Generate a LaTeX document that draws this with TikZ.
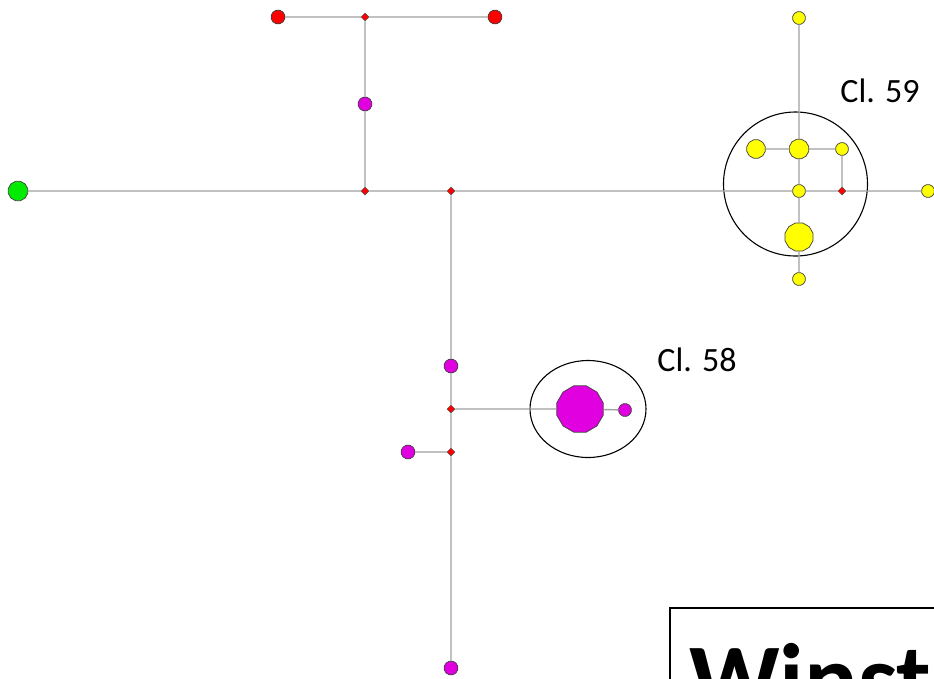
\documentclass[tikz,border=0pt]{standalone}
\usepackage{fontspec}
\setmainfont{Carlito}
\usetikzlibrary{shapes.geometric}
\definecolor{hapgreen}{RGB}{0,235,0}
\definecolor{hapmag}{RGB}{224,0,224}
\definecolor{hapyel}{RGB}{255,255,0}
\definecolor{hapred}{RGB}{255,0,0}
\definecolor{edgegray}{RGB}{160,160,160}
\tikzset{
  hap/.style={regular polygon, regular polygon sides=12, draw=black!75, line width=0.7pt, inner sep=0pt, minimum size=#1},
  hap/.default=13pt,
  med/.style={diamond, fill=hapred, draw=black!70, line width=0.5pt, inner sep=0pt, minimum size=8pt},
  link/.style={draw=edgegray, line width=1.4pt},
  clus/.style={draw=black, line width=1.1pt},
  lab/.style={font=\fontsize{34}{40}\selectfont, inner sep=0pt}
}
\begin{document}
\begin{tikzpicture}[x=1pt,y=-1pt]
\useasboundingbox (0,0) rectangle (934,678);
\clip (0,0) rectangle (934,678);
% cluster outlines
\draw[clus] (588,409) ellipse [x radius=58, y radius=48.5];
\draw[clus] (795.5,184) circle [radius=72];
% nodes
\node[hap=20pt, fill=hapgreen] (g) at (18,191) {};
\node[med] (m1) at (365,191) {};
\node[med] (m2) at (451,191) {};
\node[med] (m3) at (365,17) {};
\node[hap=14pt, fill=hapred] (r1) at (278,17) {};
\node[hap=14pt, fill=hapred] (r2) at (495,17) {};
\node[hap=14pt, fill=hapmag] (p1) at (365,104) {};
\node[hap=14pt, fill=hapmag] (p2) at (451,366) {};
\node[med] (m4) at (451,409) {};
\node[med] (m5) at (451,452) {};
\node[hap=14pt, fill=hapmag] (p3) at (408,452) {};
\node[hap=14pt, fill=hapmag] (p4) at (451,668) {};
\node[hap=48pt, fill=hapmag] (pb) at (580,409) {};
\node[hap=13pt, fill=hapmag] (p5) at (625,410) {};
\node[hap=13pt, fill=hapyel] (y1) at (799,18) {};
\node[hap=19pt, fill=hapyel] (y2) at (756,149) {};
\node[hap=20pt, fill=hapyel] (y3) at (799,149) {};
\node[hap=13pt, fill=hapyel] (y4) at (842,149) {};
\node[hap=13pt, fill=hapyel] (y5) at (799,191) {};
\node[med] (m6) at (842,191) {};
\node[hap=29pt, fill=hapyel] (y6) at (799,237) {};
\node[hap=13pt, fill=hapyel] (y7) at (799,279) {};
\node[hap=13pt, fill=hapyel] (y8) at (928,191) {};
% links
\path[link] (g) -- (m1) (m1) -- (m2) (m2) -- (y5) (y5) -- (m6) (m6) -- (y8)
  (m1) -- (p1) (p1) -- (m3) (r1) -- (m3) (m3) -- (r2)
  (m2) -- (p2) (p2) -- (m4) (m4) -- (m5) (m5) -- (p4) (p3) -- (m5)
  (m4) -- (pb) (pb) -- (p5)
  (y1) -- (y3) (y3) -- (y5) (y5) -- (y6) (y6) -- (y7)
  (y2) -- (y3) (y3) -- (y4) (y4) -- (m6);
% labels
\node[lab, anchor=center] (c58) at (697,360) {Cl. 58};
\node[lab, anchor=center] (c59) at (880,91) {Cl. 59};
% title box
\draw[line width=2pt] (670,608) rectangle (960,720);
\node[anchor=base west, inner sep=0pt, font=\fontsize{100}{110}\selectfont\bfseries] (title) at (689,713) {Winsto};
\end{tikzpicture}
\end{document}
